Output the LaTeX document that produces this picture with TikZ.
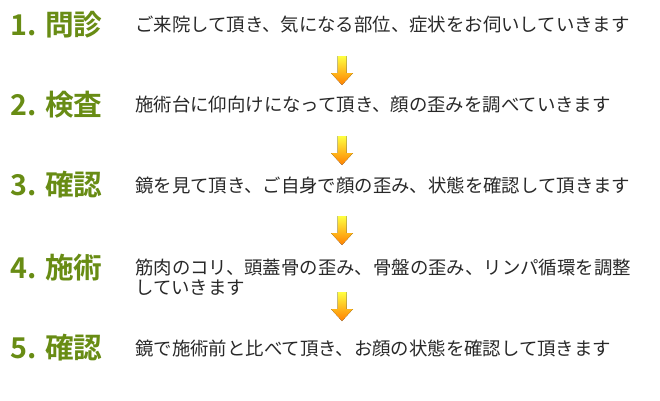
\documentclass[tikz,border=0pt]{standalone}
\usepackage{fontspec}
\newfontfamily\cjk{Noto Sans CJK JP}
\newfontfamily\cjkb{Noto Sans CJK JP Bold}
\usetikzlibrary{positioning}
\definecolor{stepgreen}{RGB}{104,140,20}
\definecolor{desc}{RGB}{40,40,40}
\tikzset{
  steptitle/.style={anchor=west,inner sep=0pt,text=stepgreen,font=\cjkb\fontsize{21.5}{21.5}\selectfont},
  stepdesc/.style={anchor=west,inner sep=0pt,text=desc,align=left,font=\cjk\fontsize{13.8}{14.5}\selectfont},
  downarrow/.style={top color=yellow!75!white,bottom color=orange,draw=none}
}
\newcommand{\downarr}[1]{%
  \fill[downarrow] (342-4.5,#1) -- (342+4.5,#1) -- (342+4.5,#1-17) -- (342+11,#1-17)
    -- (342,#1-29) -- (342-11,#1-17) -- (342-4.5,#1-17) -- cycle;}
\begin{document}
\begin{tikzpicture}[x=0.75pt,y=0.75pt]
\useasboundingbox (0,0) rectangle (660,-400);
% steps
\node[steptitle] (t1) at (10,-25) {1. 問診};
\node[stepdesc] (d1) at (135,-25) {ご来院して頂き、気になる部位、症状をお伺いしていきます};
\node[steptitle] (t2) at (10,-105) {2. 検査};
\node[stepdesc] (d2) at (135,-105) {施術台に仰向けになって頂き、顔の歪みを調べていきます};
\node[steptitle] (t3) at (10,-185) {3. 確認};
\node[stepdesc] (d3) at (135,-185) {鏡を見て頂き、ご自身で顔の歪み、状態を確認して頂きます};
\node[steptitle] (t4) at (10,-268) {4. 施術};
\node[stepdesc,anchor=north west] (d4) at (135,-259) {筋肉のコリ、頭蓋骨の歪み、骨盤の歪み、リンパ循環を調整\\していきます};
\node[steptitle] (t5) at (10,-348) {5. 確認};
\node[stepdesc] (d5) at (135,-348) {鏡で施術前と比べて頂き、お顔の状態を確認して頂きます};
% arrows
\downarr{-56}
\downarr{-136}
\downarr{-216}
\downarr{-292}
\end{tikzpicture}
\end{document}
